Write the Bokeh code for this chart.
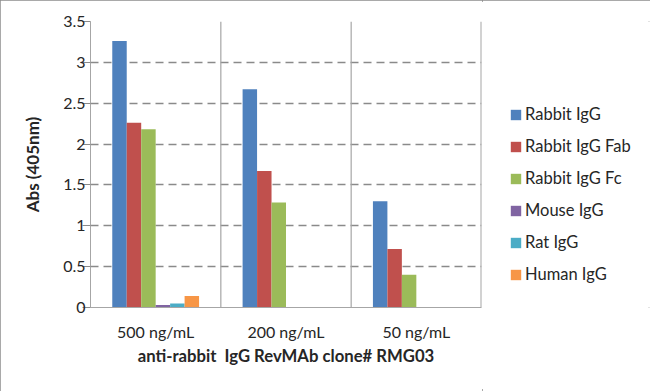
from bokeh.plotting import figure
from bokeh.models import ColumnDataSource, Legend, LegendItem, Span, FixedTicker
from bokeh.layouts import row
from bokeh.transform import dodge
from bokeh.embed import file_html
from bokeh.resources import INLINE

categories = ["500 ng/mL", "200 ng/mL", "50 ng/mL"]
series = ["Rabbit IgG", "Rabbit IgG Fab", "Rabbit IgG Fc", "Mouse IgG", "Rat IgG", "Human IgG"]
rabbit_igg = [3.26, 2.67, 1.30]
rabbit_igg_fab = [2.26, 1.67, 0.715]
rabbit_igg_fc = [2.18, 1.285, 0.40]
mouse_igg = [0.03, 0.0, 0.0]
rat_igg = [0.05, 0.0, 0.0]
human_igg = [0.14, 0.0, 0.0]
y_ticks = [0, 0.5, 1, 1.5, 2, 2.5, 3, 3.5]
y_tick_labels = ["0", "0.5", "1", "1.5", "2", "2.5", "3", "3.5"]
colors = ["#4F81BD", "#C0504D", "#9BBB59", "#8064A2", "#4BACC6", "#F79646"]

values = [rabbit_igg, rabbit_igg_fab, rabbit_igg_fc, mouse_igg, rat_igg, human_igg]
data = {"cat": categories}
keys = []
for i, v in enumerate(values):
    k = "s%d" % i
    keys.append(k)
    data[k] = v
src = ColumnDataSource(data)

FONT = "Lato"
TXT = "#262626"

p = figure(x_range=categories, y_range=(0, 3.5), width=482, height=391,
           output_backend="svg", toolbar_location=None,
           min_border_left=90, min_border_right=1, min_border_top=21, min_border_bottom=84)
p.outline_line_color = None
p.background_fill_color = "white"
p.border_fill_color = "white"

bw = 0.111
for i, k in enumerate(keys):
    p.vbar(x=dodge("cat", (i - 2.5) * bw, range=p.x_range), top=k, width=bw,
           source=src, fill_color=colors[i], line_color=None)

# grids
p.xgrid.grid_line_color = None
p.ygrid.ticker = FixedTicker(ticks=y_ticks[1:])
p.ygrid.grid_line_color = "#8a8a8a"
p.ygrid.grid_line_width = 1.6
p.ygrid.grid_line_dash = "8 5"
for loc in [1, 2, 3]:
    p.add_layout(Span(location=loc, dimension="height", line_color="#a6a6a6",
                      line_width=1.2 if loc < 3 else 2))

# y axis
p.yaxis.ticker = FixedTicker(ticks=y_ticks)
p.yaxis.major_label_overrides = {t: l for t, l in zip(y_ticks, y_tick_labels)}
p.yaxis.axis_line_color = "#a6a6a6"
p.yaxis.major_tick_line_color = "#8a8a8a"
p.yaxis.major_tick_out = 8
p.yaxis.major_tick_in = 0
p.yaxis.minor_tick_line_color = None
p.yaxis.major_label_text_font = FONT
p.yaxis.major_label_text_font_size = "16px"
p.yaxis.major_label_text_color = TXT
p.yaxis.major_label_standoff = -3
p.yaxis.axis_label = "Abs (405nm)"
p.yaxis.axis_label_text_font = FONT
p.yaxis.axis_label_text_font_style = "bold"
p.yaxis.axis_label_text_font_size = "17px"
p.yaxis.axis_label_text_color = TXT
p.yaxis.axis_label_standoff = 17

# x axis
p.xaxis.axis_line_color = "#a6a6a6"
p.xaxis.major_tick_line_color = None
p.xaxis.minor_tick_line_color = None
p.xaxis.major_label_text_font = FONT
p.xaxis.major_label_text_font_size = "16px"
p.xaxis.major_label_text_color = TXT
p.xaxis.major_label_standoff = 8
p.xaxis.axis_label = "anti-rabbit\u00a0 IgG RevMAb clone# RMG03"
p.xaxis.axis_label_text_font = FONT
p.xaxis.axis_label_text_font_style = "bold"
p.xaxis.axis_label_text_font_size = "16.7px"
p.xaxis.axis_label_text_color = TXT
p.xaxis.axis_label_standoff = 2

# legend panel: zero-width copies of the series, only their legend swatches show
p2 = figure(width=168, height=391, x_range=categories, y_range=(50, 51),
            output_backend="svg", toolbar_location=None, min_border=0)
p2.axis.visible = False
p2.grid.visible = False
p2.outline_line_color = None
p2.border_fill_color = "white"
p2.background_fill_color = "white"
items = []
for i, (s, k) in enumerate(zip(series, keys)):
    r = p2.vbar(x="cat", top=k, width=0, source=src, fill_color=colors[i], line_color=None)
    items.append(LegendItem(label=s, renderers=[r]))
legend = Legend(items=items, location=(27, 23), orientation="vertical")
legend.border_line_color = None
legend.background_fill_alpha = 0
legend.padding = 0
legend.margin = 0
legend.spacing = 12
legend.glyph_width = 13
legend.glyph_height = 13
legend.label_height = 13
legend.label_standoff = 3
legend.label_text_font = FONT
legend.label_text_font_size = "16.5px"
legend.label_text_color = TXT
legend.label_text_baseline = "middle"
p2.add_layout(legend, "center")

layout = row(p, p2, spacing=0,
             styles={"outline": "2px solid #8c8c8c", "outline-offset": "-2px"})

open("out.html", "w").write(file_html(layout, INLINE))
